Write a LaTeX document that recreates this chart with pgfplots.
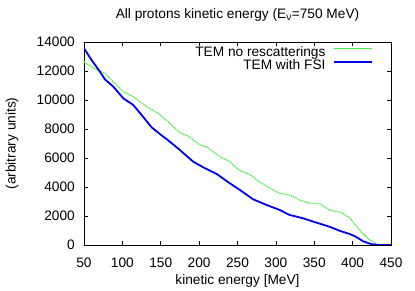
\documentclass[border=0pt]{standalone}
\usepackage{fontspec}
\setmainfont{Liberation Sans}
\usepackage{pgfplots}
\pgfplotsset{compat=1.18}
\definecolor{gnugreen}{RGB}{60,240,60}
\definecolor{gnublue}{RGB}{0,0,240}
\begin{document}
\fontsize{13.7bp}{16bp}\selectfont
\begin{tikzpicture}[x=1bp,y=1bp]
\useasboundingbox (0,0) rectangle (415,291);
\begin{axis}[
  at={(84bp,46bp)}, anchor=south west,
  scale only axis, width=307bp, height=203bp,
  xmin=50, xmax=450, ymin=0, ymax=14000,
  xtick={50,100,...,450},
  ytick={0,2000,...,14000},
  scaled y ticks=false,
  /pgf/number format/assume math mode=true,
  /pgf/number format/1000 sep={},
  tick align=inside,
  major tick length=4bp,
  axis line style={line width=0.7bp},
  every tick/.style={line width=0.6bp, black},
  tick label style={font=\fontsize{13.7bp}{16bp}\selectfont},
  xticklabel style={anchor=base, inner sep=0pt, yshift=-22.5bp},
  yticklabel style={anchor=east, inner sep=0pt, xshift=-9bp},
  title={All protons kinetic energy (E\textsubscript{\fontsize{10bp}{10bp}\selectfont ν}=750 MeV)},
  title style={at={(axis description cs:0.5,1.0887)}, anchor=base, inner sep=0pt, font=\fontsize{13.7bp}{16bp}\selectfont},
  xlabel={kinetic energy [MeV]},
  xlabel style={at={(axis description cs:0.5,-0.197)}, anchor=base, inner sep=0pt, font=\fontsize{13.7bp}{16bp}\selectfont},
  ylabel={(arbitrary units)},
  ylabel style={at={(axis description cs:-0.2345,0.5)}, anchor=center, inner sep=0pt, font=\fontsize{13.7bp}{16bp}\selectfont},
  legend style={draw=none, fill=none, inner sep=0pt, outer sep=0pt,
    at={(axis description cs:0.9423,0.9759)}, anchor=north east,
    font=\fontsize{13.7bp}{16bp}\selectfont,
    row sep=0.5bp, column sep=8bp,
    nodes={inner sep=0pt, text height=9.8bp, text depth=3bp}},
  legend cell align=right,
  legend plot pos=right,
  legend image code/.code={\draw[#1] (0bp,4.5bp) -- (38bp,4.5bp);},
]
\addplot[gnugreen, line width=1.2bp, dash pattern=on 1.2bp off 0.8bp] coordinates {
(50,12640) (66.5,12070) (77.3,11840) (88.2,11260) (101.2,10575) (114.2,10230)
(131.6,9540) (146.8,9080) (162,8390) (175,7730) (184,7560) (188,7430)
(201,6900) (209.8,6780) (227,6090) (240,5745) (253,5125) (266,4870)
(279,4330) (296.5,3790) (305,3565) (318,3450) (331,3100) (344,2875)
(357,2850) (370,2400) (385,2250) (396,1880) (409,1035) (422,345)
(433,30) (437,0) (450,0)
};
\addlegendentry{TEM no rescatterings}
\addplot[gnublue, line width=1.8bp] coordinates {
(50,13565) (60,12750) (70.8,11950) (77.3,11425) (88.2,10920) (101.2,10115)
(114.2,9655) (125.1,8965) (138.1,8115) (153.3,7470) (157.6,7310) (175,6550)
(192.3,5745) (205.3,5360) (222.8,4900) (240,4255) (253,3800) (270.4,3150)
(288,2760) (305,2415) (318,2070) (335.6,1840) (353,1540) (370,1260)
(383,985) (396,760) (403,600) (414,250) (425,50) (435,0) (450,0)
};
\addlegendentry{TEM with FSI}
\end{axis}
\end{tikzpicture}
\end{document}
